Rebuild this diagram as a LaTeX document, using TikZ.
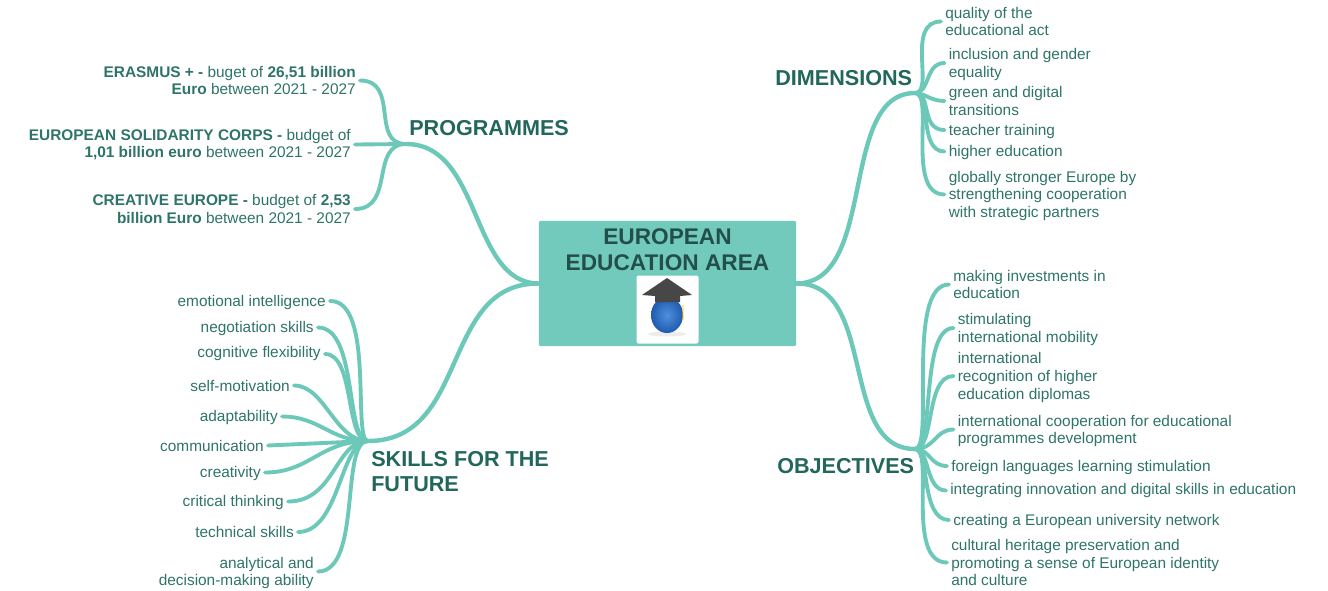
\documentclass[tikz,border=0pt]{standalone}
\usepackage{fontspec}
\setmainfont{Liberation Sans}
\definecolor{branch}{HTML}{6CC8B8}
\definecolor{boxfill}{HTML}{72CABD}
\definecolor{leaftext}{HTML}{2E7468}
\definecolor{headtext}{HTML}{22665C}
\definecolor{titletext}{HTML}{234F4B}
\definecolor{globein}{HTML}{4F8FDB}
\definecolor{globeout}{HTML}{1F5BB0}
\tikzset{
  px/.style={x=0.75pt,y=-0.75pt},
  conn/.style={draw=branch,line width=2.9pt,line cap=round},
  mainconn/.style={draw=branch,line width=3.3pt,line cap=round},
  leafl/.style={anchor=east,align=right,text=leaftext,inner xsep=3pt,inner ysep=0pt,font=\fontsize{11.55}{13.2}\selectfont},
  leafr/.style={anchor=west,align=left,text=leaftext,inner xsep=3pt,inner ysep=0pt,font=\fontsize{11.55}{13.2}\selectfont},
  head/.style={anchor=west,align=left,text=headtext,inner sep=0pt,font=\fontsize{16.2}{18.7}\selectfont\bfseries},
  dn/.style={yshift=-1.1pt},
}
\begin{document}
\begin{tikzpicture}[px]
\useasboundingbox (0,0) rectangle (1328,590);
% central topic
\node[fill=boxfill,rounded corners=1.5pt,minimum width=193pt,minimum height=94pt,inner sep=0pt] (center) at (667.5,283.5) {};
\node[text=titletext,align=center,inner sep=0pt,font=\fontsize{17}{19.3}\selectfont\bfseries] (title) at (667.5,250) {EUROPEAN\\EDUCATION AREA};
% picture
\node[fill=white,rounded corners=1.5pt,minimum width=46.5pt,minimum height=51pt,inner sep=0pt] (pic) at (667.5,309.5) {};
\fill[gray!15] (667,334) ellipse (19 and 2.5);
\shade[inner color=globein,outer color=globeout] (667,315) ellipse (16 and 18);
\fill[yellow!70!orange,opacity=.45] (682,305) rectangle (684,320);
\fill[black!72] (667,278) -- (692,295) -- (680,296) -- (680,302) -- (655,302) -- (655,296) -- (642,295) -- cycle;
% hubs
\coordinate (hubP) at (406,144);
\coordinate (hubS) at (368,441);
\coordinate (hubD) at (915,93);
\coordinate (hubO) at (915,449);
\coordinate (cl) at (center.west);
\coordinate (cr) at (center.east);
% headings
\node[head] (programmes) at (409,128) {PROGRAMMES};
\node[head] (skills) at (371,471.5) {SKILLS FOR THE\\FUTURE};
\node[head] (dimensions) at (775,78) {DIMENSIONS};
\node[head] (objectives) at (777,466) {OBJECTIVES};
% leaves: programmes
\node[leafl] (p1) at (360,80.5) {\textbf{ERASMUS + -} buget of \textbf{26,51 billion}\\\textbf{Euro} between 2021 - 2027};
\node[leafl] (p2) at (355,144.5) {\textbf{EUROPEAN SOLIDARITY CORPS -} budget of\\\textbf{1,01 billion euro} between 2021 - 2027};
\node[leafl] (p3) at (355,209) {\textbf{CREATIVE EUROPE -} budget of \textbf{2,53}\\\textbf{billion Euro} between 2021 - 2027};
% leaves: skills
\node[leafl,dn] (s1) at (330,301) {emotional intelligence};
\node[leafl,dn] (s2) at (318,327.5) {negotiation skills};
\node[leafl] (s3) at (325,354) {cognitive flexibility};
\node[leafl] (s4) at (294,385.5) {self-motivation};
\node[leafl,dn] (s5) at (282,416.5) {adaptability};
\node[leafl] (s6) at (268,445.5) {communication};
\node[leafl,dn] (s7) at (265,472.5) {creativity};
\node[leafl,dn] (s8) at (288,501.5) {critical thinking};
\node[leafl] (s9) at (298,532) {technical skills};
\node[leafl,dn] (s10) at (318,571.5) {analytical and\\decision-making ability};
% leaves: dimensions
\node[leafr] (d1) at (941,21.5) {quality of the\\educational act};
\node[leafr,dn] (d2) at (944.5,63) {inclusion and gender\\equality};
\node[leafr] (d3) at (944.5,101) {green and digital\\transitions};
\node[leafr,dn] (d4) at (944.5,130) {teacher training};
\node[leafr,dn] (d5) at (944.5,151.5) {higher education};
\node[leafr,dn] (d6) at (944.5,194.5) {globally stronger Europe by\\strengthening cooperation\\with strategic partners};
% leaves: objectives
\node[leafr] (o1) at (949,284.5) {making investments in\\education};
\node[leafr,dn] (o2) at (953.5,328) {stimulating\\international mobility};
\node[leafr,dn] (o3) at (953.5,376) {international\\recognition of higher\\education diplomas};
\node[leafr,dn] (o4) at (953.5,429.5) {international cooperation for educational\\programmes development};
\node[leafr,dn] (o5) at (947,466) {foreign languages learning stimulation};
\node[leafr] (o6) at (946,490.5) {integrating innovation and digital skills in education};
\node[leafr,dn] (o7) at (949,520) {creating a European university network};
\node[leafr] (o8) at (947,562.5) {cultural heritage preservation and\\promoting a sense of European identity\\and culture};
% main branches
\draw[mainconn] (cl) .. controls (470,283) and (482,144) .. (hubP);
\draw[mainconn] (cl) .. controls (440,283) and (470,441) .. (hubS);
\draw[mainconn] (cr) .. controls (878,283) and (838,93) .. (hubD);
\draw[mainconn] (cr) .. controls (878,283) and (838,449) .. (hubO);
% connectors: programmes
\draw[conn] (hubP) .. controls (370,144) and (400,80.5) .. (p1.east);
\draw[conn] (hubP) -- (p2.east);
\draw[conn] (hubP) .. controls (370,144) and (395,209) .. (p3.east);
% connectors: skills
\draw[conn] (hubS) .. controls (352,441) and (375,300) .. ([yshift=1.1pt]s1.east);
\draw[conn] (hubS) .. controls (345,441) and (358,327.5) .. ([yshift=1.1pt]s2.east);
\draw[conn] (hubS) .. controls (345,441) and (355,354) .. (s3.east);
\draw[conn] (hubS) .. controls (335,441) and (325,385.5) .. (s4.east);
\draw[conn] (hubS) .. controls (330,441) and (320,416.5) .. ([yshift=1.1pt]s5.east);
\draw[conn] (hubS) -- (s6.east);
\draw[conn] (hubS) .. controls (320,441) and (310,472.5) .. ([yshift=1.1pt]s7.east);
\draw[conn] (hubS) .. controls (335,441) and (335,501.5) .. ([yshift=1.1pt]s8.east);
\draw[conn] (hubS) .. controls (340,441) and (340,532) .. (s9.east);
\draw[conn] (hubS) .. controls (340,441) and (362,571.5) .. ([yshift=1.1pt]s10.east);
% connectors: dimensions
\draw[conn] (hubD) .. controls (935,93) and (905,21.5) .. (d1.west);
\draw[conn] (hubD) .. controls (930,93) and (925,63) .. ([yshift=1.1pt]d2.west);
\draw[conn] (hubD) .. controls (925,93) and (930,101) .. (d3.west);
\draw[conn] (hubD) .. controls (932,93) and (920,130) .. ([yshift=1.1pt]d4.west);
\draw[conn] (hubD) .. controls (932,93) and (918,151.5) .. ([yshift=1.1pt]d5.west);
\draw[conn] (hubD) .. controls (935,93) and (905,194.5) .. ([yshift=1.1pt]d6.west);
% connectors: objectives
\draw[conn] (hubO) .. controls (935,449) and (905,284.5) .. (o1.west);
\draw[conn] (hubO) .. controls (935,449) and (920,328) .. ([yshift=1.1pt]o2.west);
\draw[conn] (hubO) .. controls (935,449) and (925,376) .. ([yshift=1.1pt]o3.west);
\draw[conn] (hubO) .. controls (935,449) and (935,429.5) .. ([yshift=1.1pt]o4.west);
\draw[conn] (hubO) .. controls (930,449) and (930,466) .. ([yshift=1.1pt]o5.west);
\draw[conn] (hubO) .. controls (930,449) and (925,490.5) .. (o6.west);
\draw[conn] (hubO) .. controls (930,449) and (920,520) .. ([yshift=1.1pt]o7.west);
\draw[conn] (hubO) .. controls (935,449) and (905,562.5) .. (o8.west);
\end{tikzpicture}
\end{document}
